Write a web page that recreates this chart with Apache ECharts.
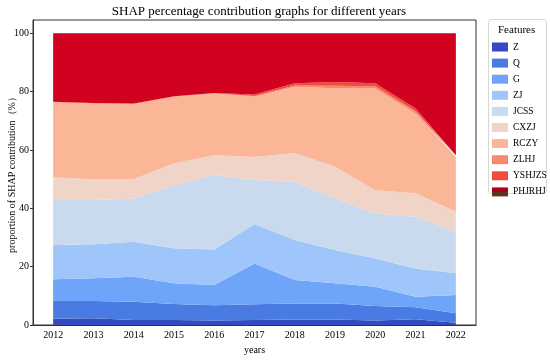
<!DOCTYPE html>
<html>
<head>
<meta charset="utf-8">
<script src="https://cdn.jsdelivr.net/npm/echarts@6/dist/echarts.min.js"></script>
<style>html,body{margin:0;padding:0;background:#fff}#c{width:550px;height:360px}</style>
</head>
<body>
<div id="c"></div>
<script>
var years = ['2012','2013','2014','2015','2016','2017','2018','2019','2020','2021','2022'];
var Z      = [2.1, 2.3, 1.7, 1.7, 1.5, 1.7, 1.9, 1.9, 1.5, 2.0, 0.8];
var Q      = [6.1, 5.9, 6.3, 5.5, 5.3, 5.4, 5.5, 5.5, 5.0, 4.1, 3.2];
var G      = [7.5, 7.8, 8.5, 7.1, 6.9, 14.0, 8.0, 6.9, 6.6, 3.6, 6.3];
var ZJ     = [11.7, 11.7, 12.0, 12.0, 12.2, 13.5, 13.7, 11.4, 9.7, 9.7, 7.4];
var JCSS   = [15.4, 15.1, 14.8, 21.6, 25.5, 15.1, 20.0, 17.6, 15.4, 17.7, 14.2];
var CXZJ   = [7.8, 7.1, 6.6, 7.5, 6.8, 7.9, 9.8, 10.9, 8.0, 8.0, 6.9];
var RCZY   = [25.7, 26.0, 25.8, 22.8, 21.1, 20.6, 22.7, 26.9, 34.8, 27.4, 18.7];
var ZLHJ   = [0.1, 0.1, 0.1, 0.1, 0.1, 0.3, 0.5, 0.9, 0.8, 0.7, 0.3];
var YSHJZS = [0.1, 0.1, 0.1, 0.1, 0.1, 0.5, 0.7, 1.3, 1.0, 1.0, 0.4];
var PHJRHJ = [23.5, 23.9, 24.1, 21.6, 20.5, 21.0, 17.2, 16.7, 17.2, 25.8, 41.8];
var yTicks = [0, 20, 40, 60, 80, 100];

var names = ['Z','Q','G','ZJ','JCSS','CXZJ','RCZY','ZLHJ','YSHJZS','PHJRHJ'];
var values = [Z, Q, G, ZJ, JCSS, CXZJ, RCZY, ZLHJ, YSHJZS, PHJRHJ];
var colors = ['#3449c2','#4a7be2','#6ea5f8','#9fc6fb','#c9d9ee','#efd4c7','#fbb698','#f7896c','#ef4b3e','#d0021f'];

var font = 'Liberation Serif';
var series = names.map(function(n, i){
  return {
    name: n, type: 'line', stack: 'total', data: values[i],
    symbol: 'none', lineStyle: {width: 0}, smooth: false,
    itemStyle: {color: colors[i]},
    areaStyle: {color: colors[i], opacity: 1},
    emphasis: {disabled: true}
  };
});

var legendData = names.map(function(n, i){
  var d = {name: n, itemStyle: {color: colors[i]}};
  if (n === 'PHJRHJ') {
    d.itemStyle = {color: new echarts.graphic.LinearGradient(0,0,0,1,[{offset:0,color:'#b8001c'},{offset:0.5,color:'#9a0a1c'},{offset:0.51,color:'#5c3420'},{offset:1,color:'#5c3420'}])};
  }
  return d;
});

var chart = echarts.init(document.getElementById('c'), null, {renderer: 'canvas'});
chart.setOption({
  animation: false,
  backgroundColor: '#fff',
  title: {
    text: 'SHAP percentage contribution graphs for different years',
    left: 254, top: 0, textAlign: 'center',
    textStyle: {fontFamily: font, fontSize: 13, fontWeight: 'normal', color: '#000'}
  },
  grid: {left: 33, right: 74, top: 20, bottom: 35, show: true, borderColor: '#333', borderWidth: 1,
         backgroundColor: 'transparent', containLabel: false, outerBoundsMode: 'none'},
  legend: {
    orient: 'vertical', left: 492, top: 42, padding: 0,
    itemWidth: 16, itemHeight: 9, itemGap: 6.1,
    icon: 'rect',
    textStyle: {fontFamily: font, fontSize: 9.5, lineHeight: 9, color: '#000'},
    data: legendData, selectedMode: false
  },
  xAxis: {
    type: 'category', data: years, boundaryGap: true,
    name: 'years', nameLocation: 'middle', nameGap: 19,
    nameTextStyle: {fontFamily: font, fontSize: 10, color: '#000'},
    axisLine: {lineStyle: {color: '#333'}},
    axisTick: {alignWithLabel: true, length: 3, lineStyle: {color: '#333'}},
    axisLabel: {fontFamily: font, fontSize: 10, color: '#000', margin: 5, interval: 0},
    splitLine: {show: false}
  },
  yAxis: {
    type: 'value', min: 0, max: 104.5, interval: 20,
    name: 'proportion of SHAP contribution（%）', nameLocation: 'middle', nameGap: 16,
    nameMoveOverlap: false,
    nameTextStyle: {fontFamily: font, fontSize: 10, color: '#000'},
    axisLine: {show: true, lineStyle: {color: '#333'}},
    axisTick: {show: true, length: 3, lineStyle: {color: '#333'}},
    axisLabel: {fontFamily: font, fontSize: 10, color: '#000', margin: 4, showMaxLabel: false,
      formatter: function(v){ return yTicks.indexOf(v) >= 0 ? String(v) : ''; }},
    splitLine: {show: false}
  },
  graphic: [
    {type: 'rect', left: 488, top: 19, shape: {width: 58, height: 174, r: 3},
     style: {fill: '#fff', stroke: '#d6d6d6', lineWidth: 1}, z: -1},
    {type: 'text', left: 498, top: 25, style: {text: 'Features', font: '11px "Liberation Serif"', fill: '#000'}}
  ],
  series: series
});
</script>
</body>
</html>
